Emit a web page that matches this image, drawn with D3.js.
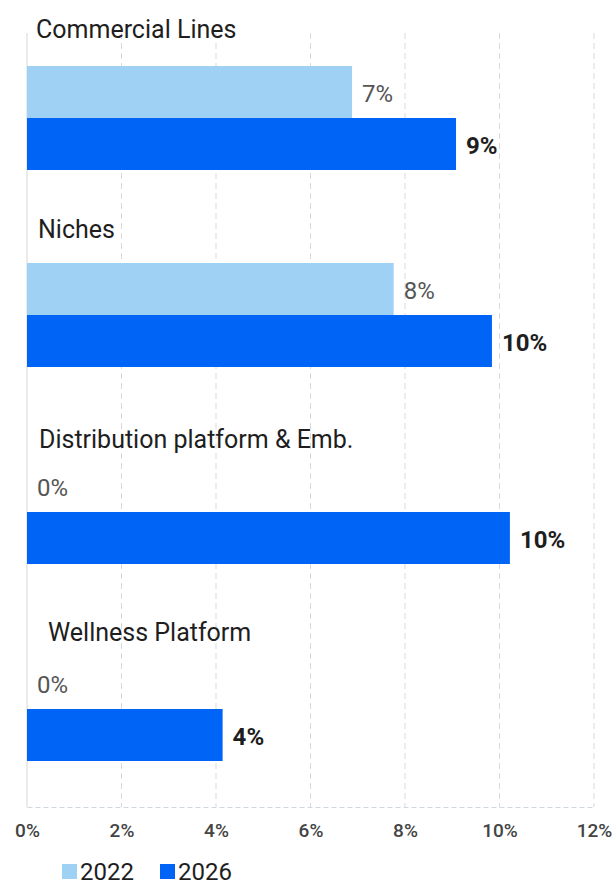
<!DOCTYPE html>
<html>
<head>
<meta charset="utf-8">
<script src="https://cdn.jsdelivr.net/npm/d3@7"></script>
<style>
  html, body { margin: 0; padding: 0; background: #ffffff; }
  svg { display: block; font-family: Roboto, "Noto Sans", sans-serif; }
</style>
</head>
<body>
<svg id="chart" width="614" height="887"></svg>
<script>
// Segment growth shares, 2022 vs 2026
const categories = ["Commercial Lines", "Niches", "Distribution platform & Emb.", "Wellness Platform"];
const series = ["2022", "2026"];
const values2022 = [0.0688, 0.0776, 0, 0];
const values2026 = [0.0908, 0.0984, 0.1022, 0.0414];
const xTicks = [0, 0.02, 0.04, 0.06, 0.08, 0.10, 0.12];

// Layout
const xLeft = 27, xRight = 594;
const plotTop = 33, plotBottom = 807;
const bandTop = 14, bandStep = 197;
const colors = { "2022": "#9fd1f4", "2026": "#0064f7" };
// Per-group nudges for the category headings [dx, dy from band top]
const titleNudge = [[9, 24], [11, 27], [12, 40], [21, 36]];

const svg = d3.select("#chart");

const x = d3.scaleLinear().domain([0, 0.12]).range([xLeft, xRight]);
const y = d3.scaleBand().domain(categories)
  .range([bandTop, bandTop + bandStep * categories.length]);
const yInner = d3.scaleBand().domain(series).range([52, 156]);
const fmt = d3.format(".0%");

const rows = categories.map((c, i) => ({
  category: c,
  i,
  bars: [
    { key: "2022", value: values2022[i] },
    { key: "2026", value: values2026[i] }
  ]
}));

// Vertical grid
svg.append("g")
  .selectAll("line")
  .data(xTicks.slice(1))
  .join("line")
  .attr("x1", d => x(d)).attr("x2", d => x(d))
  .attr("y1", plotTop).attr("y2", plotBottom)
  .attr("stroke", "#d9d9d9")
  .attr("stroke-width", 1)
  .attr("stroke-dasharray", "6,4");

// Category axis line
svg.append("line")
  .attr("x1", x(0)).attr("x2", x(0))
  .attr("y1", plotTop).attr("y2", plotBottom)
  .attr("stroke", "#d6d6d6").attr("stroke-width", 1);

// Bottom value axis
const xAxis = d3.axisBottom(x).tickValues(xTicks).tickFormat(fmt).tickSize(0).tickPadding(17);
const axisG = svg.append("g")
  .attr("transform", `translate(0,${plotBottom})`)
  .call(xAxis)
  .attr("font-size", "19px")
  .attr("font-family", "Roboto, sans-serif");
axisG.select(".domain")
  .attr("stroke", "#cfd8e0")
  .attr("stroke-dasharray", "5,3");
axisG.selectAll(".tick text")
  .attr("font-size", "19px")
  .attr("font-weight", 500)
  .attr("fill", "#444");

// Groups
const groups = svg.append("g")
  .selectAll("g.group")
  .data(rows)
  .join("g")
  .attr("class", "group")
  .attr("transform", d => `translate(0,${y(d.category)})`);

groups.append("text")
  .attr("x", d => x(0) + titleNudge[d.i][0])
  .attr("y", d => titleNudge[d.i][1])
  .attr("fill", "#1e1e1e")
  .attr("font-size", "25px")
  .text(d => d.category);

groups.selectAll("rect")
  .data(d => d.bars)
  .join("rect")
  .attr("x", x(0))
  .attr("y", d => yInner(d.key))
  .attr("width", d => x(d.value) - x(0))
  .attr("height", yInner.bandwidth())
  .attr("fill", d => colors[d.key]);

groups.selectAll("text.value")
  .data(d => d.bars)
  .join("text")
  .attr("class", "value")
  .attr("x", d => x(d.value) + 10)
  .attr("y", d => yInner(d.key) + 36)
  .attr("font-size", "24px")
  .attr("font-weight", d => d.key === "2026" ? 700 : 400)
  .attr("fill", d => d.key === "2026" ? "#1e1e1e" : "#555")
  .text(d => fmt(d.value));

// Legend
const legend = svg.append("g").attr("transform", "translate(62,864)");
const li = legend.selectAll("g")
  .data(series)
  .join("g")
  .attr("transform", (d, i) => `translate(${i * 98},0)`);
li.append("rect")
  .attr("width", 15).attr("height", 15)
  .attr("fill", d => colors[d]);
li.append("text")
  .attr("x", 18).attr("y", 16)
  .attr("font-size", "24px")
  .attr("fill", "#1e1e1e")
  .text(d => d);
</script>
</body>
</html>
